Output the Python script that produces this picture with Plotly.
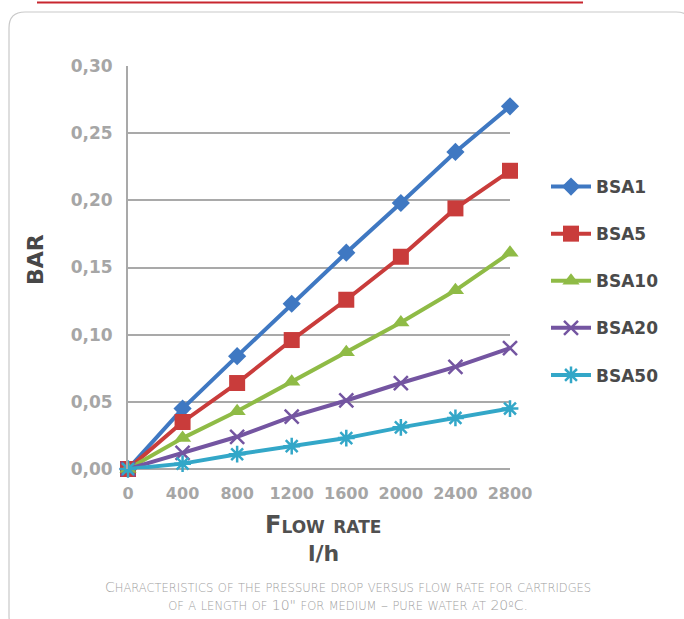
import plotly.graph_objects as go

flow = [0, 400, 800, 1200, 1600, 2000, 2400, 2800]
x_ticks = [0, 400, 800, 1200, 1600, 2000, 2400, 2800]
y_ticks = [0.00, 0.05, 0.10, 0.15, 0.20, 0.25, 0.30]

bsa1 = [0.0, 0.045, 0.084, 0.123, 0.161, 0.198, 0.236, 0.270]
bsa5 = [0.0, 0.035, 0.064, 0.096, 0.126, 0.158, 0.194, 0.222]
bsa10 = [0.0, 0.023, 0.043, 0.065, 0.087, 0.109, 0.133, 0.161]
bsa20 = [0.0, 0.012, 0.024, 0.039, 0.051, 0.064, 0.076, 0.090]
bsa50 = [0.0, 0.004, 0.011, 0.017, 0.023, 0.031, 0.038, 0.045]

series_names = ["BSA1", "BSA5", "BSA10", "BSA20", "BSA50"]
series_values = [bsa1, bsa5, bsa10, bsa20, bsa50]
colors = ["#3f78c2", "#c93c3b", "#8fbb46", "#7455a1", "#33a7c8"]
symbols = ["diamond", "square", "triangle-up", "x-thin", "asterisk"]
msizes = [14, 16, 15, 14, 14]

caption_lines = [
    "Characteristics of the pressure drop versus flow rate for cartridges",
    "of a length of 10\" for medium \u2013 pure water at 20\u00baC.",
]

W, H = 684, 619
L, R, T, B = 128, 510, 66, 469


def px(x):
    return (x - L) / (R - L)


def py(y):
    return (B - y) / (B - T)


def smallcaps(text, small):
    out = []
    for ch in text:
        if ch.islower():
            out.append(f"<span style='font-size:{small}px'>{ch.upper()}</span>")
        else:
            out.append(ch)
    return "".join(out)


fig = go.Figure()
for name, vals, c, s, ms in zip(series_names, series_values, colors, symbols, msizes):
    fig.add_trace(go.Scatter(
        x=flow, y=vals, name=name, mode="lines+markers",
        line=dict(color=c, width=4),
        marker=dict(symbol=s, size=ms, color=c,
                    line=dict(color=c, width=2.5 if s in ("x-thin", "asterisk") else 0)),
        legendgroup=name, cliponaxis=False,
    ))

shapes = []
# red rule at top
shapes.append(dict(type="line", xref="paper", yref="paper",
                   x0=px(37), x1=px(583), y0=py(2.5), y1=py(2.5),
                   line=dict(color="#c8262f", width=2)))
# rounded frame
x0, x1, y0, y1, r = 9, 692, 12, 632, 16
path = (f"M {px(x0)},{py(y0 + r)} "
        f"Q {px(x0)},{py(y0)} {px(x0 + r)},{py(y0)} "
        f"L {px(x1 - r)},{py(y0)} "
        f"Q {px(x1)},{py(y0)} {px(x1)},{py(y0 + r)} "
        f"L {px(x1)},{py(y1 - r)} "
        f"Q {px(x1)},{py(y1)} {px(x1 - r)},{py(y1)} "
        f"L {px(x0 + r)},{py(y1)} "
        f"Q {px(x0)},{py(y1)} {px(x0)},{py(y1 - r)} Z")
shapes.append(dict(type="path", xref="paper", yref="paper", path=path,
                   line=dict(color="#c9c9c9", width=1.2), layer="below"))


def ann(text, x, y, size, color, family="DejaVu Sans", angle=0, weight="normal"):
    return dict(text=text, x=px(x), y=py(y), xref="paper", yref="paper",
                xanchor="center", yanchor="middle", textangle=angle, showarrow=False,
                font=dict(family=family, size=size, color=color, weight=weight))


annotations = [
    ann("<b>BAR</b>", 35, 260, 22, "#474747", angle=-90),
    ann("<b>" + smallcaps("Flow rate", 17) + "</b>", 323, 525, 24, "#505050"),
    ann("<b>l/h</b>", 323, 553, 22, "#505050"),
    ann("<br>".join(smallcaps(t, 11.5) for t in caption_lines),
        348, 596, 14, "#a0a0a0", weight=300),
]

fig.update_layout(
    width=W, height=H,
    margin=dict(l=L, r=W - R, t=T, b=H - B, autoexpand=False),
    paper_bgcolor="white", plot_bgcolor="white",
    separators=", ",
    showlegend=True,
    legend=dict(x=px(546), y=py(169), xanchor="left", yanchor="top",
                xref="paper", yref="paper",
                font=dict(family="DejaVu Sans", size=17, color="#4a4a4a", weight="bold"),
                tracegroupgap=22, itemwidth=40, bgcolor="rgba(0,0,0,0)"),
    xaxis=dict(range=[0, 2800], tickvals=x_ticks, ticktext=[str(v) for v in x_ticks],
               showgrid=False, zeroline=False, showline=False,
               ticks="outside", ticklen=10, tickcolor="rgba(0,0,0,0)",
               tickfont=dict(family="DejaVu Sans", size=16, color="#a6a6a6", weight="bold")),
    yaxis=dict(range=[0, 0.30], tickvals=y_ticks, tickformat=".2f",
               showgrid=True, gridcolor="#a9a9a9", gridwidth=1.5,
               zeroline=True, zerolinecolor="#a9a9a9", zerolinewidth=1.5,
               showline=True, linecolor="#a9a9a9", linewidth=2,
               ticks="outside", ticklen=10, tickcolor="rgba(0,0,0,0)",
               tickfont=dict(family="DejaVu Sans", size=17, color="#a6a6a6", weight="bold")),
    shapes=shapes,
    annotations=annotations,
)

fig.write_html("out.html")
